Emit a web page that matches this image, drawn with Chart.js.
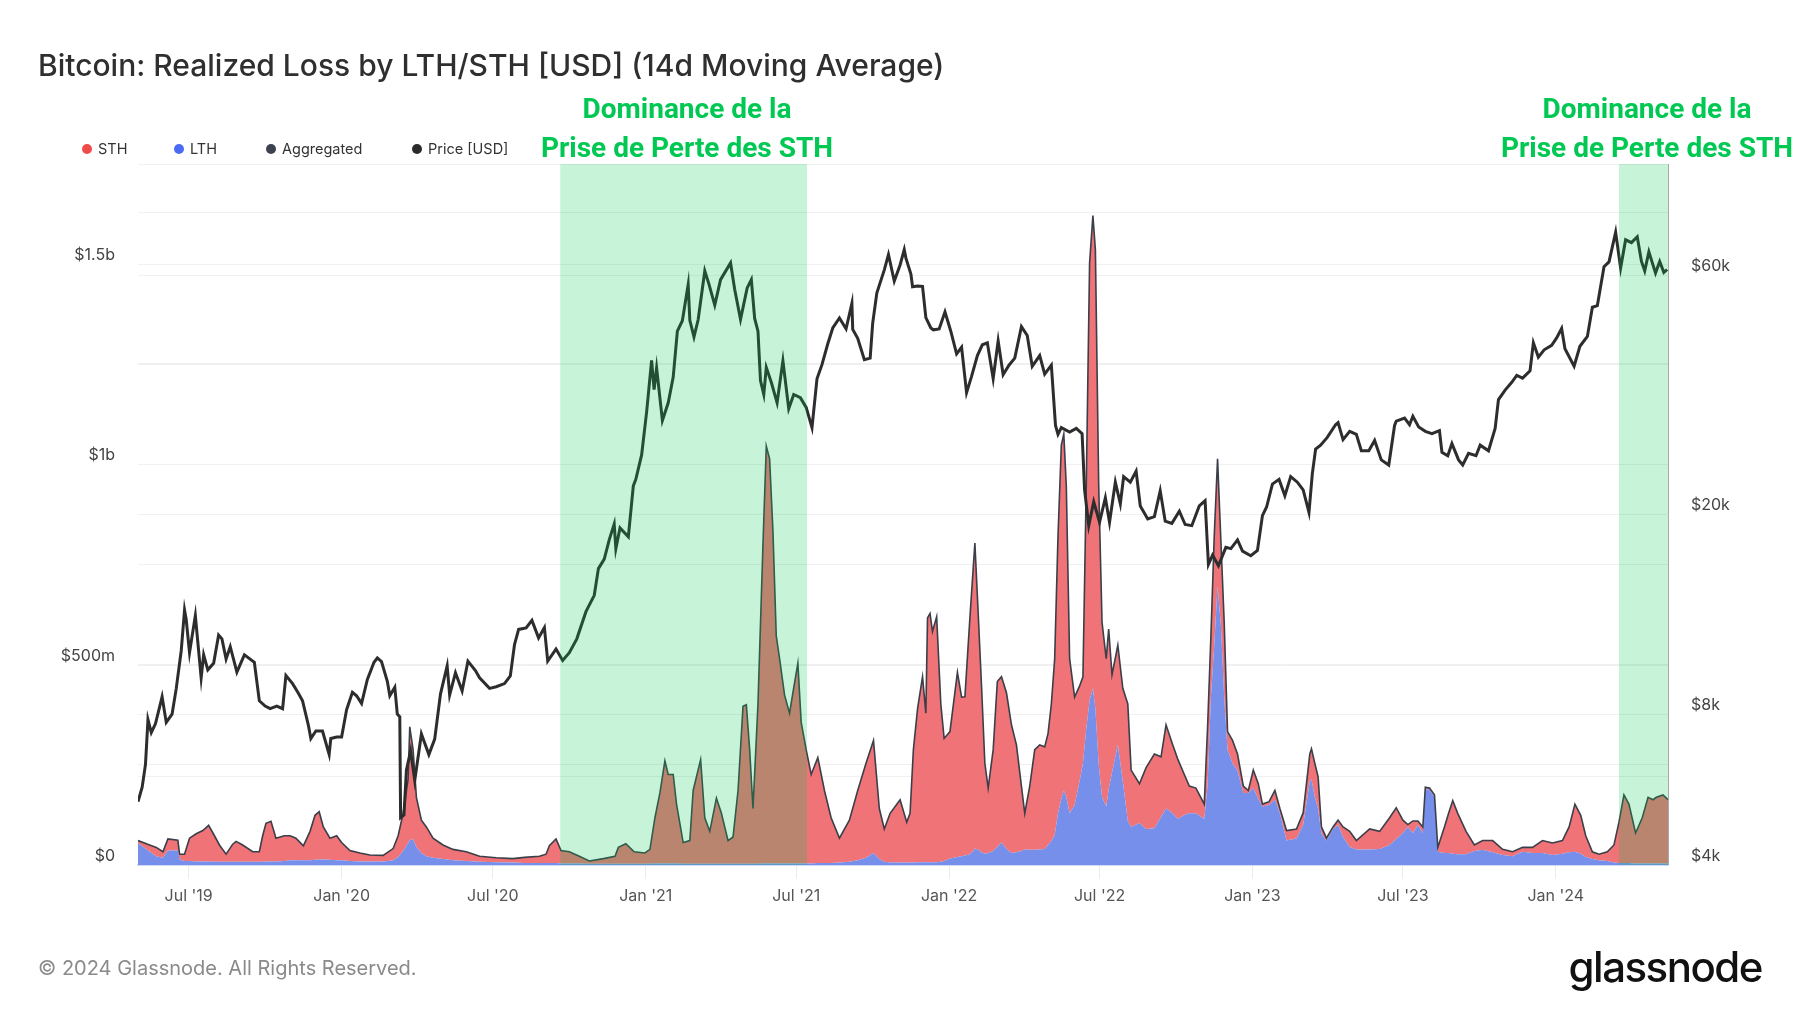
<!DOCTYPE html>
<html>
<head>
<meta charset="utf-8">
<script src="https://cdn.jsdelivr.net/npm/chart.js@4.4.1/dist/chart.umd.min.js"></script>
<style>
  html, body { margin: 0; padding: 0; background: #fff; }
  #wrap { position: relative; width: 1800px; height: 1013px; font-family: Inter, "Noto Sans", sans-serif; overflow: hidden; }
  #chart { position: absolute; left: 0; top: 0; }
  .title { position: absolute; left: 38px; top: 47px; font-size: 30px; line-height: 36px; font-weight: 500; color: #2f2f2f; white-space: nowrap; }
  .note { position: absolute; width: 440px; text-align: center; font-family: Roboto, sans-serif; font-weight: 700; font-size: 28px; line-height: 39px; color: #00c853; white-space: nowrap; }
  .legend span.item { position: absolute; top: 140px; font-size: 14.5px; line-height: 18px; color: #333; white-space: nowrap; }
  .legend i { position: absolute; top: 4px; left: -16px; width: 10px; height: 10px; border-radius: 50%; }
  .footer { position: absolute; left: 38px; top: 955px; font-size: 20px; line-height: 26px; color: #8a8a8a; }
  .logo { position: absolute; right: 38px; top: 942px; font-size: 42px; line-height: 50px; font-weight: 500; letter-spacing: -1.5px; color: #111; }
</style>
</head>
<body>
<div id="wrap">
  <canvas id="chart" width="1800" height="1013"></canvas>
  <div class="title">Bitcoin: Realized Loss by LTH/STH [USD] (14d Moving Average)</div>
  <div class="note" style="left:467px;top:89px;">Dominance de la<br>Prise de Perte des STH</div>
  <div class="note" style="left:1427px;top:89px;">Dominance de la<br>Prise de Perte des STH</div>
  <div class="legend">
    <span class="item" style="left:98px;"><i style="background:#f04b4b"></i>STH</span>
    <span class="item" style="left:190px;"><i style="background:#4b6cf2"></i>LTH</span>
    <span class="item" style="left:282px;"><i style="background:#3d4250"></i>Aggregated</span>
    <span class="item" style="left:428px;"><i style="background:#2b2b2b"></i>Price [USD]</span>
  </div>
  <div class="footer">© 2024 Glassnode. All Rights Reserved.</div>
  <div class="logo">glassnode</div>
</div>
<script>
// realized loss, 14d MA, in millions USD
const lossDates = [
  '2019-05-01','2019-05-15','2019-05-23','2019-05-31','2019-06-06','2019-06-18','2019-06-20','2019-06-26',
  '2019-07-02','2019-07-10','2019-07-18','2019-07-25','2019-08-01','2019-08-07','2019-08-15','2019-08-23','2019-08-27',
  '2019-09-04','2019-09-16','2019-09-24','2019-09-28','2019-10-02','2019-10-08','2019-10-14','2019-10-24','2019-10-31',
  '2019-11-07','2019-11-16','2019-11-24','2019-11-30','2019-12-05','2019-12-10','2019-12-18','2019-12-26',
  '2020-01-01','2020-01-11','2020-01-23','2020-02-04','2020-02-20',
  '2020-03-03','2020-03-09','2020-03-15','2020-03-21','2020-03-23','2020-03-27','2020-03-31',
  '2020-04-06','2020-04-12','2020-04-20','2020-05-02','2020-05-14','2020-05-30','2020-06-15','2020-07-05','2020-07-25',
  '2020-08-08','2020-08-26','2020-09-03','2020-09-07','2020-09-15','2020-09-21','2020-10-01','2020-10-13','2020-10-25',
  '2020-11-11','2020-11-25','2020-11-29','2020-12-08','2020-12-18','2020-12-31',
  '2021-01-06','2021-01-12','2021-01-18','2021-01-24','2021-01-28',
  '2021-02-03','2021-02-07','2021-02-15','2021-02-23','2021-02-27',
  '2021-03-08','2021-03-13','2021-03-19','2021-03-27',
  '2021-04-02','2021-04-10','2021-04-16','2021-04-22','2021-04-28',
  '2021-05-02','2021-05-06','2021-05-10','2021-05-16','2021-05-22','2021-05-26','2021-05-30',
  '2021-06-03','2021-06-07','2021-06-11','2021-06-17','2021-06-23','2021-06-27',
  '2021-07-03','2021-07-07','2021-07-13','2021-07-19','2021-07-27',
  '2021-08-04','2021-08-12','2021-08-22',
  '2021-09-03','2021-09-13','2021-09-23',
  '2021-10-02','2021-10-09','2021-10-15','2021-10-22',
  '2021-11-03','2021-11-11','2021-11-15','2021-11-19','2021-11-24','2021-11-30',
  '2021-12-04','2021-12-06','2021-12-09','2021-12-12','2021-12-17','2021-12-22','2021-12-26',
  '2022-01-02','2022-01-11','2022-01-16','2022-01-20','2022-01-26','2022-01-30',
  '2022-02-01','2022-02-05','2022-02-09','2022-02-13','2022-02-17','2022-02-23','2022-02-28',
  '2022-03-05','2022-03-11','2022-03-17','2022-03-23','2022-03-29',
  '2022-04-02','2022-04-08','2022-04-14','2022-04-20','2022-04-26','2022-04-30',
  '2022-05-04','2022-05-08','2022-05-12','2022-05-16','2022-05-19','2022-05-22','2022-05-26',
  '2022-06-01','2022-06-07','2022-06-11','2022-06-15','2022-06-19','2022-06-23','2022-06-26','2022-06-30',
  '2022-07-04','2022-07-09','2022-07-12','2022-07-16','2022-07-23','2022-07-29',
  '2022-08-04','2022-08-08','2022-08-18','2022-08-26',
  '2022-09-05','2022-09-13','2022-09-19','2022-09-27',
  '2022-10-03','2022-10-11','2022-10-17','2022-10-25',
  '2022-11-04','2022-11-08','2022-11-12','2022-11-16','2022-11-20','2022-11-24','2022-11-28',
  '2022-12-02','2022-12-08','2022-12-14','2022-12-21','2022-12-27',
  '2023-01-02','2023-01-08','2023-01-13','2023-01-21','2023-01-28',
  '2023-02-03','2023-02-11','2023-02-23',
  '2023-03-03','2023-03-11','2023-03-13','2023-03-17','2023-03-21','2023-03-25','2023-03-31',
  '2023-04-08','2023-04-14','2023-04-20','2023-04-28',
  '2023-05-06','2023-05-22',
  '2023-06-03','2023-06-15','2023-06-23',
  '2023-07-01','2023-07-07','2023-07-13','2023-07-19','2023-07-25','2023-07-28',
  '2023-08-02','2023-08-08','2023-08-12','2023-08-20','2023-08-25','2023-08-30',
  '2023-09-05','2023-09-15','2023-09-25',
  '2023-10-05','2023-10-17','2023-10-29',
  '2023-11-10','2023-11-22',
  '2023-12-04','2023-12-16','2023-12-28',
  '2024-01-09','2024-01-17','2024-01-24','2024-01-31',
  '2024-02-06','2024-02-14','2024-02-22',
  '2024-03-03','2024-03-11','2024-03-17','2024-03-23','2024-03-29',
  '2024-04-06','2024-04-14','2024-04-21','2024-04-27',
  '2024-05-01','2024-05-09','2024-05-15'
];
const aggLoss = [
  61,50,44,33,65,62,27,27,
  67,78,86,99,73,50,27,52,59,
  50,33,33,73,104,109,67,73,73,
  67,48,84,124,133,95,67,73,
  56,36,30,25,24,
  41,73,129,214,345,288,169,
  112,95,67,50,39,33,22,18,16,
  19,22,27,48,65,36,33,22,10,
  16,22,44,53,33,30,
  39,118,180,260,226,
  226,152,56,61,186,
  263,118,84,167,
  129,61,70,186,396,
  400,288,141,402,800,1046,1014,
  833,572,515,424,379,430,
  504,356,288,226,268,
  186,118,67,
  112,186,254,
  311,141,90,129,
  163,107,129,288,390,470,
  379,617,628,583,620,402,316,
  333,481,419,420,617,742,
  804,628,447,254,192,288,458,
  470,430,350,300,197,
  129,197,288,300,295,328,
  402,515,821,1048,1076,946,515,
  419,447,470,946,1502,1621,1536,946,
  606,515,589,475,549,441,
  402,237,203,243,
  277,270,350,300,
  265,226,197,192,
  152,345,572,821,1014,810,606,
  333,311,277,197,186,
  237,203,152,158,186,
  141,86,90,
  130,277,290,254,220,95,67,
  95,112,95,84,
  61,90,
  84,118,143,
  112,101,110,110,95,194,
  192,175,44,95,129,161,
  129,84,50,
  61,61,39,
  33,44,
  44,61,55,
  61,95,152,124,
  73,33,27,
  33,50,107,175,152,
  80,118,169,163,
  169,175,163
];
const lthLoss = [
  55,33,22,18,36,36,14,10,
  10,9,9,9,8,8,8,8,8,
  8,8,8,8,9,9,9,10,12,
  12,12,12,13,14,14,13,12,
  12,10,9,9,9,
  12,20,35,55,62,65,45,
  30,22,18,15,12,10,8,7,6,
  5,5,5,5,5,4,4,4,3,
  3,3,3,3,3,3,
  3,4,4,4,4,
  4,4,3,3,3,
  3,3,3,3,
  3,3,3,3,3,
  3,3,3,3,4,4,4,
  4,4,4,4,4,4,
  4,4,4,4,5,
  5,5,6,
  8,12,18,
  30,15,8,6,
  6,6,6,6,7,7,
  7,7,7,7,7,8,10,
  16,20,22,24,27,35,
  41,38,32,28,30,35,45,
  56,40,30,32,35,
  39,38,38,39,40,50,
  60,75,129,165,186,170,129,
  150,210,254,340,410,441,390,250,
  170,146,190,231,300,209,
  110,95,105,90,
  92,120,141,129,
  115,125,129,129,
  115,200,420,549,696,600,420,
  288,254,235,180,180,
  192,165,146,150,163,
  129,61,66,
  100,209,214,170,140,78,61,
  90,100,70,45,
  39,39,
  40,50,65,
  80,95,80,100,80,190,
  188,170,33,30,30,28,
  27,27,35,
  38,32,25,
  22,33,
  30,30,25,
  28,32,33,28,
  20,15,12,
  10,6,5,5,5,
  4,4,4,4,
  4,4,4
];
const sthLoss = [
  6,17,22,15,29,26,13,17,
  57,69,77,90,65,42,19,44,51,
  42,25,25,65,95,100,58,63,61,
  55,36,72,111,119,81,54,61,
  44,26,21,16,15,
  29,53,94,159,283,223,124,
  82,73,49,35,27,23,14,11,10,
  14,17,22,43,60,32,29,18,7,
  13,19,41,50,30,27,
  36,114,176,256,222,
  222,148,53,58,183,
  260,115,81,164,
  126,58,67,183,393,
  397,285,138,399,796,1042,1010,
  829,568,511,420,375,426,
  500,352,284,222,263,
  181,113,61,
  104,174,236,
  281,126,82,123,
  157,101,123,282,383,463,
  372,610,621,576,613,394,306,
  317,461,397,396,590,707,
  763,590,415,226,162,253,413,
  414,390,320,268,162,
  90,159,250,261,255,278,
  342,440,692,883,890,776,386,
  269,237,216,606,1092,1180,1146,696,
  436,369,399,244,249,232,
  292,142,98,153,
  185,150,209,171,
  150,101,68,63,
  37,145,152,272,318,210,186,
  45,57,42,17,6,
  45,38,6,8,23,
  12,25,24,
  30,68,76,84,80,17,6,
  5,12,25,39,
  22,51,
  44,68,78,
  32,6,30,10,15,4,
  4,5,11,65,99,133,
  102,57,15,
  23,29,14,
  11,11,
  14,31,30,
  33,63,119,96,
  53,18,15,
  23,44,102,170,147,
  76,114,165,159,
  165,171,159
];

// BTC price, USD
const priceDates = [
  '2019-05-01','2019-05-06','2019-05-10','2019-05-13','2019-05-17','2019-05-22','2019-05-30','2019-06-04','2019-06-11',
  '2019-06-16','2019-06-22','2019-06-26','2019-06-28','2019-07-02','2019-07-09','2019-07-16','2019-07-19','2019-07-24',
  '2019-07-31','2019-08-06','2019-08-10','2019-08-15','2019-08-20','2019-08-28','2019-09-06','2019-09-18','2019-09-24',
  '2019-10-01','2019-10-07','2019-10-15','2019-10-22','2019-10-26','2019-11-03','2019-11-10','2019-11-15','2019-11-22',
  '2019-11-25','2019-12-01','2019-12-09','2019-12-17','2019-12-19','2019-12-26',
  '2020-01-01','2020-01-07','2020-01-14','2020-01-19','2020-01-25','2020-02-01','2020-02-09','2020-02-13','2020-02-18',
  '2020-02-25','2020-02-28','2020-03-05','2020-03-08','2020-03-11','2020-03-12','2020-03-16','2020-03-19','2020-03-24',
  '2020-03-29','2020-04-06','2020-04-15','2020-04-22','2020-04-29','2020-05-07','2020-05-10','2020-05-17','2020-05-25',
  '2020-06-01','2020-06-10','2020-06-15','2020-06-27','2020-07-05','2020-07-15','2020-07-22','2020-07-27','2020-08-01',
  '2020-08-10','2020-08-17','2020-08-25','2020-09-01','2020-09-05','2020-09-15','2020-09-23','2020-10-01','2020-10-10',
  '2020-10-21','2020-10-31','2020-11-05','2020-11-12','2020-11-18','2020-11-24','2020-11-26','2020-12-01','2020-12-11',
  '2020-12-17','2020-12-20','2020-12-27',
  '2021-01-02','2021-01-08','2021-01-11','2021-01-14','2021-01-21','2021-01-28','2021-02-03','2021-02-08','2021-02-14',
  '2021-02-21','2021-02-23','2021-02-28','2021-03-05','2021-03-13','2021-03-18','2021-03-25','2021-04-01','2021-04-13',
  '2021-04-18','2021-04-25','2021-05-03','2021-05-08','2021-05-12','2021-05-16','2021-05-19','2021-05-23','2021-05-26',
  '2021-06-01','2021-06-08','2021-06-15','2021-06-22','2021-06-28','2021-07-06','2021-07-13','2021-07-20','2021-07-26',
  '2021-08-01','2021-08-08','2021-08-14','2021-08-22','2021-08-30','2021-09-06','2021-09-07','2021-09-13','2021-09-21',
  '2021-09-28','2021-10-01','2021-10-06','2021-10-15','2021-10-20','2021-10-27','2021-11-03','2021-11-08','2021-11-10',
  '2021-11-16','2021-11-18','2021-11-24','2021-11-30','2021-12-04','2021-12-10','2021-12-13','2021-12-20','2021-12-27',
  '2022-01-03','2022-01-10','2022-01-16','2022-01-22','2022-01-28','2022-02-04','2022-02-10','2022-02-16','2022-02-23',
  '2022-03-01','2022-03-07','2022-03-14','2022-03-21','2022-03-29','2022-04-05','2022-04-11','2022-04-20','2022-04-26',
  '2022-05-04','2022-05-09','2022-05-12','2022-05-16','2022-05-26','2022-06-03','2022-06-10','2022-06-13','2022-06-18',
  '2022-06-24','2022-07-01','2022-07-08','2022-07-13','2022-07-20','2022-07-26','2022-07-30','2022-08-07','2022-08-14',
  '2022-08-19','2022-08-28','2022-09-05','2022-09-12','2022-09-18','2022-09-26','2022-10-05','2022-10-12','2022-10-20',
  '2022-10-29','2022-11-05','2022-11-09','2022-11-14','2022-11-21','2022-11-30','2022-12-06','2022-12-14','2022-12-20',
  '2022-12-30',
  '2023-01-07','2023-01-13','2023-01-18','2023-01-25','2023-02-02','2023-02-09','2023-02-16','2023-02-24','2023-03-03',
  '2023-03-10','2023-03-14','2023-03-18','2023-03-24','2023-04-01','2023-04-11','2023-04-14','2023-04-20','2023-04-28',
  '2023-05-06','2023-05-12','2023-05-21','2023-05-28','2023-06-05','2023-06-14','2023-06-21','2023-06-23','2023-07-03',
  '2023-07-09','2023-07-13','2023-07-20','2023-07-28','2023-08-05','2023-08-14','2023-08-17','2023-08-24','2023-08-29',
  '2023-09-06','2023-09-11','2023-09-18','2023-09-27','2023-10-02','2023-10-12','2023-10-20','2023-10-24','2023-11-01',
  '2023-11-09','2023-11-15','2023-11-22','2023-12-01','2023-12-05','2023-12-11','2023-12-18','2023-12-27',
  '2024-01-02','2024-01-08','2024-01-12','2024-01-23','2024-01-30','2024-02-08','2024-02-14','2024-02-20','2024-02-28',
  '2024-03-05','2024-03-13','2024-03-19','2024-03-25','2024-04-01','2024-04-08','2024-04-13','2024-04-17','2024-04-22',
  '2024-04-30','2024-05-05','2024-05-10','2024-05-14'
];
const priceUsd = [
  5350,5720,6350,7800,7350,7650,8660,7700,8000,
  8990,10700,12900,12350,10600,12570,9450,10500,9800,
  10100,11500,11300,10300,10900,9700,10500,10150,8500,
  8300,8200,8300,8200,9550,9200,8800,8500,7600,
  7150,7400,7400,6650,7150,7200,
  7200,8160,8840,8700,8400,9380,10150,10350,10180,
  9300,8700,9050,8000,7900,4970,5030,6190,6750,
  5900,7300,6640,7130,8780,9980,8730,9670,8900,
  10200,9770,9450,9000,9070,9200,9530,11000,11800,
  11880,12300,11350,11900,10200,10780,10230,10600,11300,
  12800,13800,15600,16300,17800,19150,17100,18800,18050,
  22800,23500,26300,
  32000,40600,35500,39200,30800,33400,37600,46400,48700,
  57500,48800,45200,48900,61200,57600,52300,58800,63500,
  56200,49000,56600,58800,49200,46400,37000,34700,39300,
  36700,33400,40500,32500,34700,34200,32700,29800,37300,
  39800,43800,47100,49300,46900,52700,46800,44900,40700,
  41000,48100,55300,61500,66000,58400,62900,67500,64900,
  60300,56900,57100,57000,49400,47100,46700,46900,50700,
  46400,41800,43100,35000,37700,41500,43600,44000,37300,
  44400,38000,39700,41000,47400,45500,39500,41500,38100,
  39700,30100,28900,29800,29200,29700,29000,22400,19000,
  21200,19300,21600,19300,23200,21000,23800,23200,24400,
  20800,19600,19800,22300,19400,19200,20300,19100,19000,
  20800,21300,15900,16600,15800,17200,17100,17800,16900,
  16550,
  16950,19900,20700,23000,23500,21800,23800,23200,22400,
  20200,24100,27000,27500,28500,30200,30500,28200,29300,
  28900,26800,26800,28100,25700,25100,30100,30700,31150,
  30200,31400,29900,29300,29000,29400,26600,26200,27700,
  25700,25100,26500,26200,27500,26800,29700,33900,35400,
  36700,37900,37400,38700,44000,41200,42600,43500,
  45000,47000,42800,39500,43300,45300,51800,52200,62400,
  63800,73100,62000,70600,69700,71600,64000,61200,66800,
  60600,63900,60800,61600
];

const xTickDates = ['2019-07-01','2020-01-01','2020-07-01','2021-01-01','2021-07-01','2022-01-01','2022-07-01','2023-01-01','2023-07-01','2024-01-01'];
const xTickLabels = ["Jul '19","Jan '20","Jul '20","Jan '21","Jul '21","Jan '22","Jul '22","Jan '23","Jul '23","Jan '24"];
const lossTicks = [0, 250, 500, 750, 1000, 1250, 1500, 1750];
const lossTickLabels = ['$0', '', '$500m', '', '$1b', '', '$1.5b', ''];
const priceTicks = [4000, 6000, 8000, 10000, 20000, 40000, 60000, 80000, 100000];
const priceTickLabels = ['$4k', '', '$8k', '', '$20k', '', '$60k', '', ''];
const bandStart = ['2020-09-20', '2024-03-17'];
const bandEnd = ['2021-07-14', '2024-05-15'];

const T0 = Date.UTC(2019, 4, 1);
function day(s) {
  const [y, m, d] = s.split('-').map(Number);
  return (Date.UTC(y, m - 1, d) - T0) / 864e5;
}
const pts = (dates, vals) => dates.map((d, i) => ({ x: day(d), y: vals[i] }));

const tickFont = { family: 'Inter', size: 16 };

// green highlight drawn over the plotted series
const bands = {
  id: 'bands',
  afterDatasetsDraw(chart) {
    const { ctx, chartArea: a, scales: { x } } = chart;
    ctx.save();
    ctx.fillStyle = 'rgba(0, 200, 83, 0.22)';
    bandStart.forEach((s, i) => {
      const x0 = x.getPixelForValue(day(s));
      const x1 = Math.min(x.getPixelForValue(day(bandEnd[i])), a.right);
      ctx.fillRect(x0, a.top, x1 - x0, a.bottom - a.top);
    });
    ctx.strokeStyle = '#a9a9a9';
    ctx.lineWidth = 1;
    ctx.beginPath();
    ctx.moveTo(a.right + 0.5, a.top);
    ctx.lineTo(a.right + 0.5, a.bottom);
    ctx.stroke();
    ctx.restore();
  }
};

// stack order follows `order`: LTH sits at the bottom, STH above it
new Chart(document.getElementById('chart'), {
  type: 'line',
  data: {
    datasets: [
      { label: 'LTH', data: pts(lossDates, lthLoss), yAxisID: 'y', stack: 'loss', fill: 'origin',
        backgroundColor: '#768fea', borderWidth: 0, pointRadius: 0, order: 2 },
      { label: 'STH', data: pts(lossDates, sthLoss), yAxisID: 'y', stack: 'loss', fill: '-1',
        backgroundColor: '#ef7377', borderWidth: 0, pointRadius: 0, order: 3 },
      { label: 'Aggregated', data: pts(lossDates, aggLoss), yAxisID: 'y', stack: 'agg', fill: false,
        borderColor: '#3b3f4a', borderWidth: 1.6, pointRadius: 0, order: 1 },
      { label: 'Price [USD]', data: pts(priceDates, priceUsd), yAxisID: 'y1', fill: false,
        borderColor: '#2d2d2d', borderWidth: 3, pointRadius: 0, order: 0 }
    ]
  },
  options: {
    responsive: false,
    animation: false,
    layout: { padding: { top: 164, left: 0, right: 0, bottom: 0 } },
    plugins: { legend: { display: false }, title: { display: false }, tooltip: { enabled: false } },
    scales: {
      x: {
        type: 'linear',
        min: 0,
        max: day('2024-05-15'),
        afterBuildTicks: s => { s.ticks = xTickDates.map(d => ({ value: day(d) })); },
        afterFit: s => { s.height = 148; },
        ticks: { callback: (v, i) => xTickLabels[i], color: '#555', font: tickFont, padding: 8, maxRotation: 0, autoSkip: false },
        grid: { drawOnChartArea: false, drawTicks: true, tickLength: 14, color: '#ececec' },
        border: { display: true, color: '#d3d9f6', width: 2 }
      },
      y: {
        position: 'left',
        stacked: true,
        min: 0,
        max: 1750,
        afterBuildTicks: s => { s.ticks = lossTicks.map(v => ({ value: v })); },
        afterFit: s => { s.width = 138; },
        ticks: { callback: (v, i) => lossTickLabels[i], color: '#444', font: tickFont, padding: 23, labelOffset: -9 },
        grid: { drawTicks: false, color: c => c.tick && c.tick.value === 1750 ? '#e3e3e3' : '#f0f0f0' },
        border: { display: false }
      },
      y1: {
        type: 'logarithmic',
        position: 'right',
        min: 4000,
        max: 100000,
        afterBuildTicks: s => { s.ticks = priceTicks.map(v => ({ value: v })); },
        afterFit: s => { s.width = 132; },
        ticks: { callback: (v, i) => priceTickLabels[i], color: '#444', font: tickFont, padding: 23, labelOffset: -9 },
        grid: { drawTicks: false, color: '#f0f0f0' },
        border: { display: false }
      }
    }
  },
  plugins: [bands]
});
</script>
</body>
</html>
